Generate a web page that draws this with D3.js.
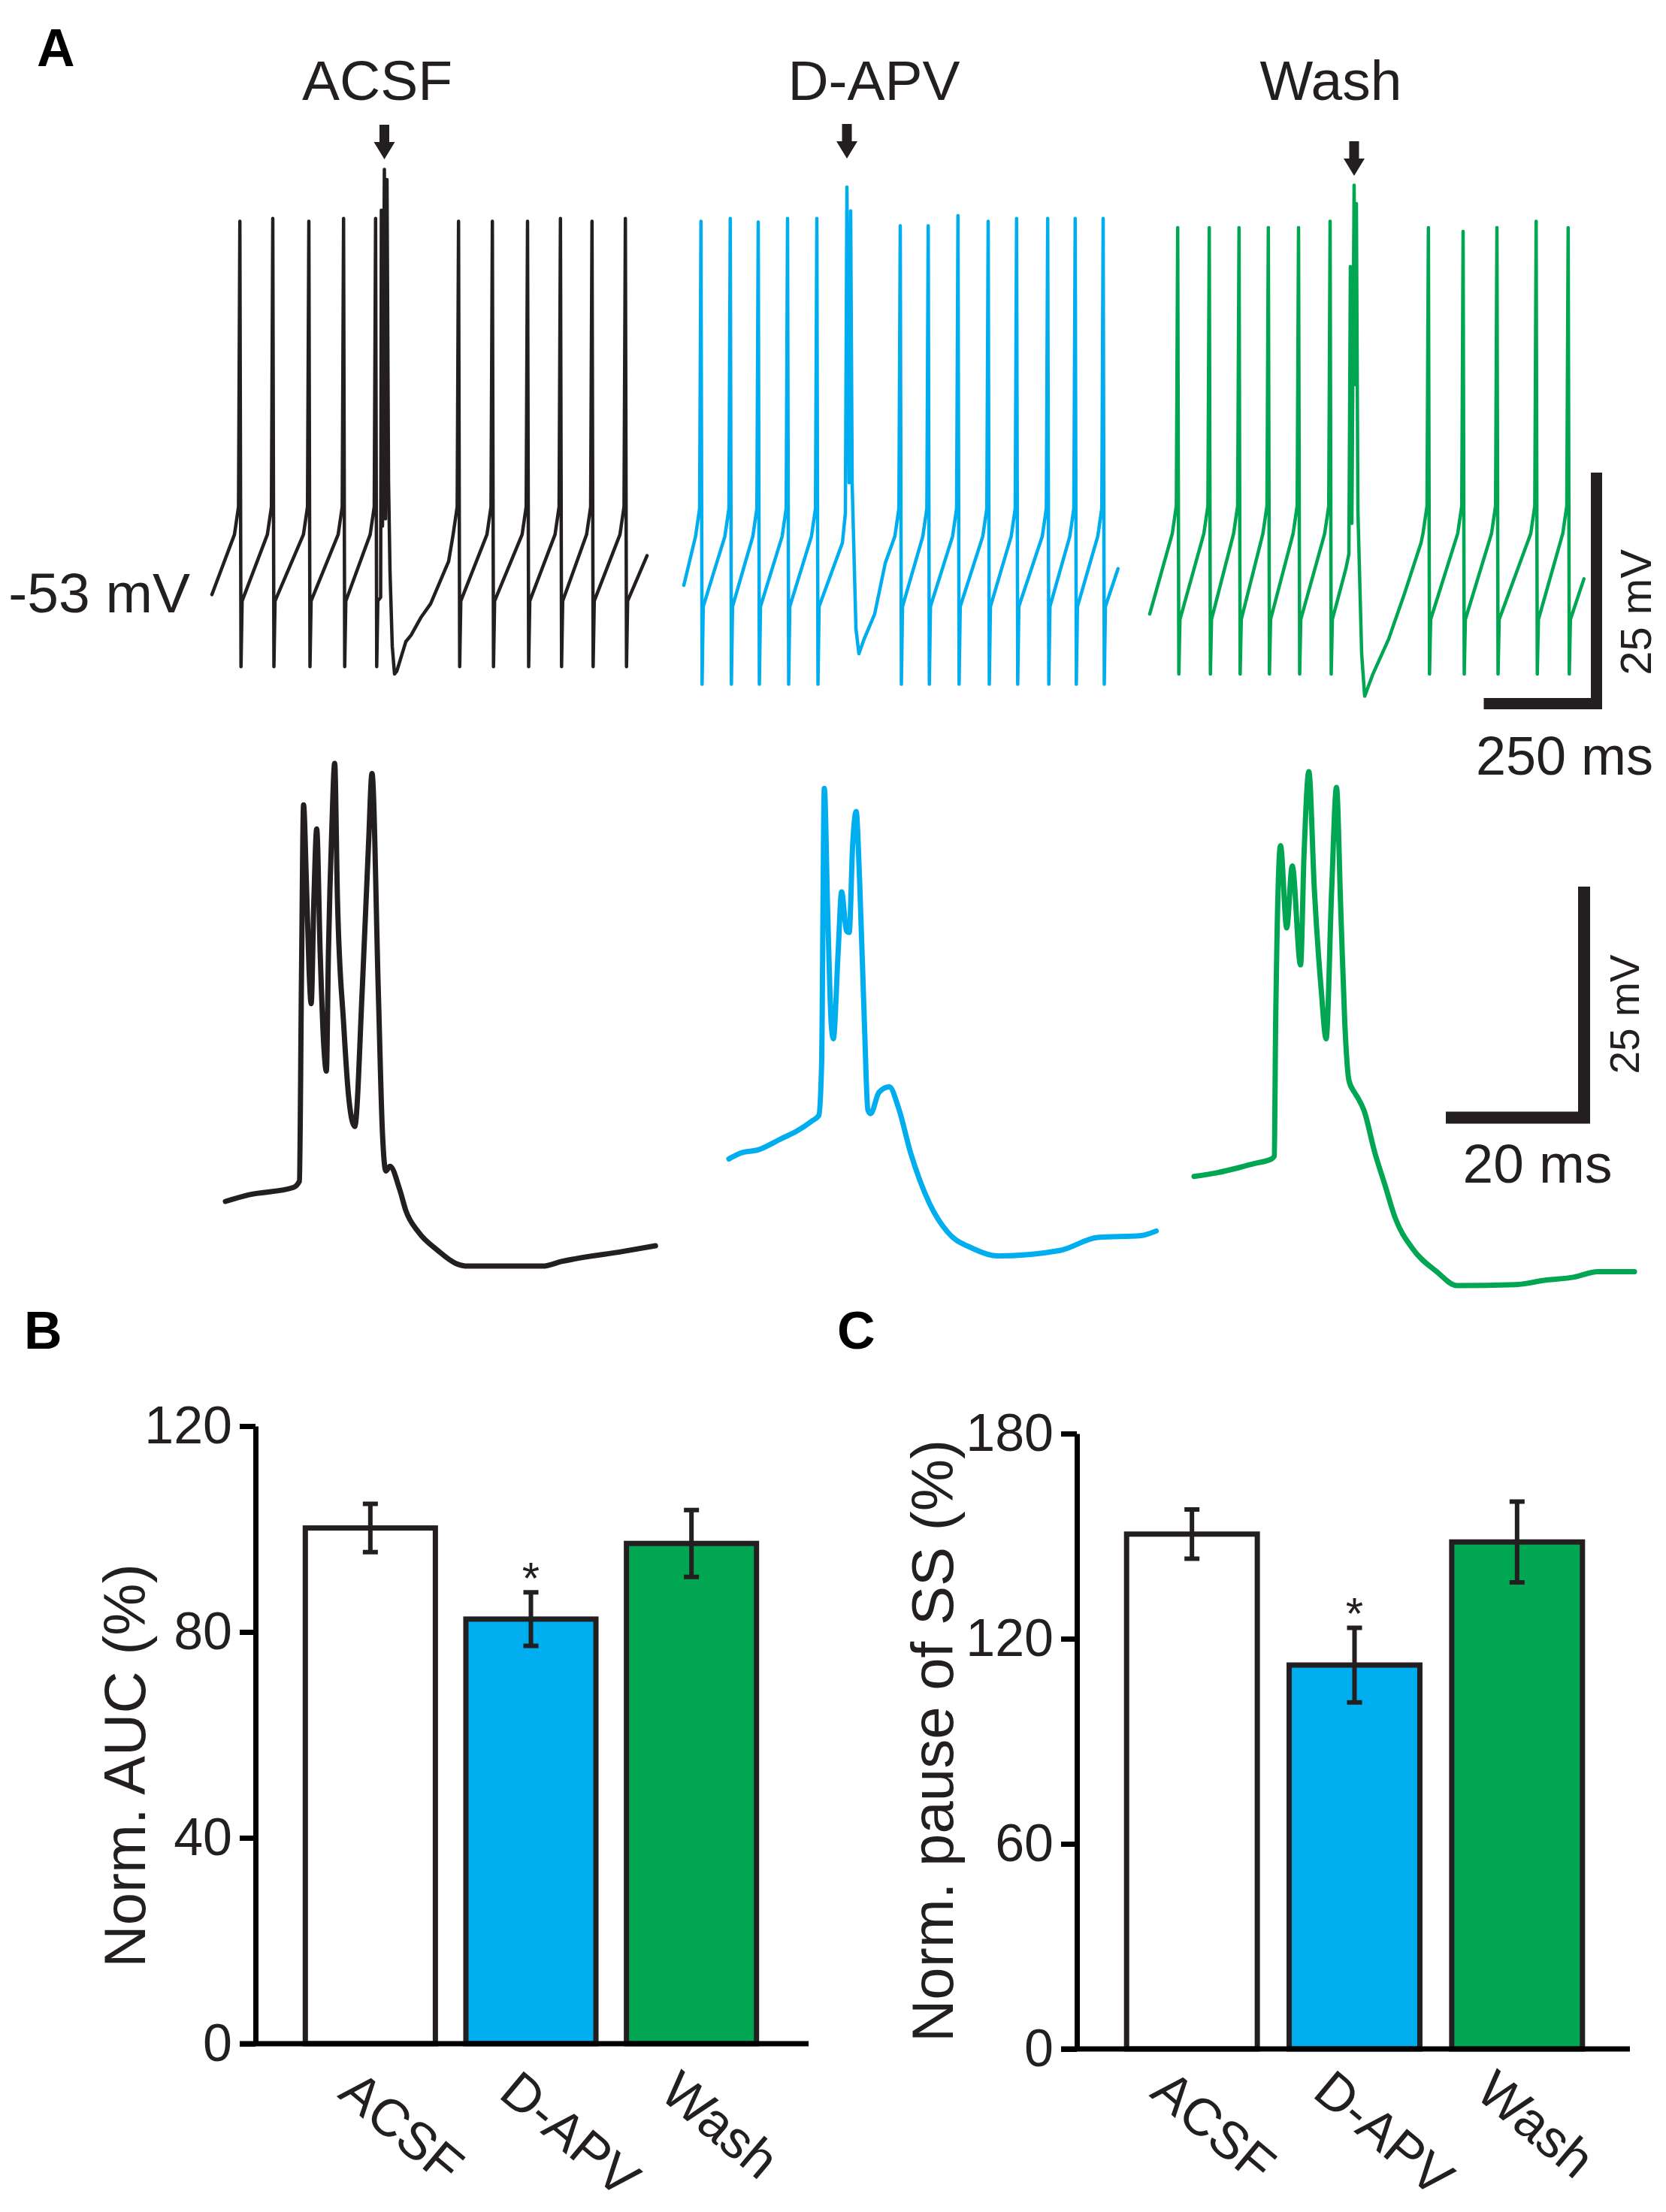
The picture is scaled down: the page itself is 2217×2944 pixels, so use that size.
<!DOCTYPE html>
<html>
<head>
<meta charset="utf-8">
<script src="https://cdnjs.cloudflare.com/ajax/libs/d3/7.8.5/d3.min.js"></script>
<style>
  body { margin: 0; background: #fff; }
  svg { display: block; }
  text { font-family: "Liberation Sans", Arial, Helvetica, sans-serif; fill: #231f20; }
</style>
</head>
<body>
<div id="fig"></div>
<script>
// ---------------- data ----------------
var conditions = ["ACSF", "D-APV", "Wash"];

// B: normalized AUC (%)
var aucMean = [100.2, 82.5, 97.2];
var aucSem = [4.7, 5.2, 6.5];
var aucTicks = [0, 40, 80, 120];

// C: normalized pause of simple spikes (%)
var pauseMean = [150.6, 112.3, 148.3];
var pauseSem = [7.2, 10.9, 11.8];
var pauseTicks = [0, 60, 120, 180];

var sigMarks = ["", "*", ""];

// A top: simple spike trains (time ms, peak mV), levels = [threshold, trough, reset] mV
var acsfSpikeT = [62, 135, 215, 292, 363, 547, 622, 700, 773, 843, 917];
var acsfSpikeV = [-12.3, -12, -12.3, -12, -12, -12.3, -12.3, -12.3, -12, -12.3, -12];
var acsfLevels = [-46.2, -60.5, -53.4];
var acsfEnds = [[0, -52.7], [965, -48.5]];
var acsfBurst = [[374.2, -53], [375.8, -11.1], [378.3, -45.3], [382.5, -6.7], [385, -44.5],
    [388.3, -7.8], [391.7, -40.4], [395, -50.2], [400, -58.3], [405, -61.3], [410, -61],
    [430, -57.8], [441.7, -57.1], [463.3, -55.2], [485, -53.7], [505, -51.4], [525, -49.1]];

var apvSpikeT = [38, 103, 165, 230, 295, 480, 542, 608, 675, 738, 807, 868, 930];
var apvSpikeV = [-12.3, -12, -12.4, -12, -12, -12.8, -12.8, -11.7, -12.3, -12, -12, -12, -12];
var apvLevels = [-46.4, -62.4, -54.0];
var apvEnds = [[0, -51.7], [963, -49.9]];
var apvBurst = [[351.7, -47.1], [358.3, -43.9], [361.7, -8.6], [366.7, -40.6], [370, -11.2],
    [373.3, -40.6], [381.7, -56.4], [388.3, -59.1], [400, -57.5], [423.3, -54.8], [446.7, -49.3]];

var washSpikeT = [62, 132, 198, 263, 330, 400, 618, 695, 770, 857, 928];
var washSpikeV = [-13, -13, -13, -13, -13, -12.3, -13, -13.4, -13, -12.3, -13];
var washLevels = [-46.1, -61.3, -55.4];
var washEnds = [[0, -54.8], [963, -51]];
var washBurst = [[435, -49.9], [441.7, -48.3], [445, -17.2], [448.3, -45], [453.3, -8.4],
    [455.8, -30], [458.3, -10.4], [461.7, -43.7], [470, -59.1], [476.7, -63.7], [495, -61.3],
    [530, -57.5], [565, -52.6], [601.7, -47.1]];

// A bottom: expanded complex spikes (time ms, mV)
var acsfCS = [[0, -53], [3.3, -52.3], [9.8, -51.5], [10.7, -50.8], [11, -28.7], [11.3, -10.1],
    [11.7, -18.2], [12.1, -28], [12.4, -31.6], [12.8, -20.2], [13.2, -12.7], [13.7, -26],
    [14.2, -35.8], [14.6, -38.9], [14.9, -26], [15.4, -12.4], [15.8, -5.6], [16.2, -20.2],
    [17.1, -33.8], [17.8, -41.5], [18.7, -44.9], [19.8, -29.9], [20.7, -14.3], [21.2, -6.7],
    [22.1, -29.9], [22.7, -45.4], [23.2, -49.7], [23.8, -49.2], [25.2, -51.7], [26.1, -54],
    [27.9, -56.3], [30.7, -58.3], [33.3, -59.7], [35.1, -60], [45.9, -60], [48.6, -59.5],
    [57.6, -58.4], [62.2, -57.8]];
var apvCS = [[0, -48.4], [1.6, -47.8], [4.3, -47.4], [7.6, -46.2], [9.8, -45.4], [12, -44.3],
    [13, -43.7], [13.4, -38.4], [13.8, -8.3], [14.3, -22.1], [14.8, -33.8], [15.1, -35.4],
    [15.8, -26], [16.3, -19.5], [17, -23.7], [17.4, -23.9], [17.9, -14.4], [18.4, -10.8],
    [18.9, -18.2], [19.6, -33.8], [20.1, -43.1], [20.5, -43.5], [21.7, -41.2], [23.2, -40.6],
    [24.5, -42.8], [26.3, -47.8], [29, -53.2], [31.6, -56.3], [35.3, -58.1], [38.9, -58.9],
    [47.9, -58.3], [53.3, -56.9], [59.6, -56.7], [61.8, -56.2]];
var washCS = [[0, -50.3], [3.3, -49.9], [6.7, -49.3], [8.7, -48.9], [11.2, -48.4], [11.6, -48.1],
    [11.8, -33.7], [12.5, -14.5], [13.4, -23.4], [14.2, -16.7], [15.4, -27.4], [15.9, -15.6],
    [16.6, -6.5], [17.4, -19.3], [18.4, -30.2], [19.1, -35.4], [19.9, -19.3], [20.6, -8.2],
    [21.2, -21], [21.8, -33.7], [22.4, -39.9], [23.2, -41.2], [23.7, -41.8], [24.6, -43.2],
    [26.1, -47.6], [27.6, -51.2], [29.1, -54.8], [31.6, -58.1], [35.1, -60.6], [38, -62.1],
    [46.5, -62], [51, -61.5], [54.9, -61.2], [58.4, -60.6], [63.7, -60.6]];

// ---------------- layout ----------------
var W = 2217, H = 2944;
var ink = "#231f20";
var traceColors = [ink, "#00aeef", "#00a651"];
var barFill = ["#ffffff", "#00aeef", "#00a651"];

var svg = d3.select("#fig").append("svg")
    .attr("width", W)
    .attr("height", H);

/*****************  Panel labels **********************/
var panelLabels = [["A", 49, 88], ["B", 32, 1795], ["C", 1114, 1795]];
svg.selectAll(".plabel")
    .data(panelLabels)
    .enter()
    .append("text")
    .attr("x", function (d) { return d[1]; })
    .attr("y", function (d) { return d[2]; })
    .style("font-size", "70px")
    .style("font-weight", "bold")
    .style("fill", "#000")
    .text(function (d) { return d[0]; });

/*****************  A: spike trains **********************/
var topOrigins = [282, 910, 1530];
var lowOrigins = [300, 970, 1589];
var topMsPx = 0.6, lowMsPx = 9.2, mVPx = 12.3;

var yTop = d3.scaleLinear().domain([-53, -13]).range([795, 795 - 40 * mVPx]);
var yLow = d3.scaleLinear().domain([-53, -13]).range([1599, 1599 - 40 * mVPx]);

function buildTrain(spT, spV, lev, ends, burst) {
    var pts = [ends[0]];
    var bt = burst[0][0];
    var burstDone = false;
    spT.forEach(function (t, i) {
        if (!burstDone && t > bt) {
            burst.forEach(function (p) { pts.push(p); });
            burstDone = true;
        }
        pts.push([t - 12, lev[0]]);
        pts.push([t - 3, lev[0] + 3]);
        pts.push([t, spV[i]]);
        pts.push([t + 2.5, lev[1]]);
        pts.push([t + 5, lev[2]]);
    });
    pts.push(ends[1]);
    return pts;
}

var trains = [
    buildTrain(acsfSpikeT, acsfSpikeV, acsfLevels, acsfEnds, acsfBurst),
    buildTrain(apvSpikeT, apvSpikeV, apvLevels, apvEnds, apvBurst),
    buildTrain(washSpikeT, washSpikeV, washLevels, washEnds, washBurst)
];
var bursts = [acsfBurst, apvBurst, washBurst];
var complexSpikes = [acsfCS, apvCS, washCS];

var titleX = [502, 1163, 1771];
var arrowTip = [212, 211, 234];

trains.forEach(function (pts, i) {
    var x = d3.scaleLinear().domain([0, 1]).range([topOrigins[i], topOrigins[i] + topMsPx]);
    var line = d3.line()
        .x(function (d) { return x(d[0]); })
        .y(function (d) { return yTop(d[1]); });
    svg.append("path")
        .datum(pts)
        .attr("d", line)
        .style("fill", "none")
        .style("stroke", traceColors[i])
        .style("stroke-width", 4.5)
        .style("stroke-linejoin", "round")
        .style("stroke-linecap", "round");

    // arrow over the complex spike
    var peak = d3.greatest(bursts[i], function (d) { return d[1]; });
    var ax = x(peak[0]), ty = arrowTip[i];
    svg.append("path")
        .attr("d", "M" + (ax - 6.5) + "," + (ty - 46) + "H" + (ax + 6.5) + "V" + (ty - 23) +
            "H" + (ax + 14) + "L" + ax + "," + ty + "L" + (ax - 14) + "," + (ty - 23) +
            "H" + (ax - 6.5) + "Z")
        .style("fill", ink);

    svg.append("text")
        .attr("x", titleX[i])
        .attr("y", 133)
        .attr("text-anchor", "middle")
        .style("font-size", "75px")
        .text(conditions[i]);

    // expanded complex spike
    var xl = d3.scaleLinear().domain([0, 1]).range([lowOrigins[i], lowOrigins[i] + lowMsPx]);
    var lineLow = d3.line()
        .curve(d3.curveMonotoneX)
        .x(function (d) { return xl(d[0]); })
        .y(function (d) { return yLow(d[1]); });
    svg.append("path")
        .datum(complexSpikes[i])
        .attr("d", lineLow)
        .style("fill", "none")
        .style("stroke", traceColors[i])
        .style("stroke-width", 7)
        .style("stroke-linejoin", "round")
        .style("stroke-linecap", "round");
});

svg.append("text")
    .attr("x", 253)
    .attr("y", 815)
    .attr("text-anchor", "end")
    .style("font-size", "75px")
    .text("-53 mV");

/*****************  Scale bars **********************/
function scaleBar(cornerX, cornerY, hLen, vLen, thick) {
    svg.append("path")
        .attr("d", "M" + (cornerX - hLen) + "," + cornerY + "H" + cornerX + "V" + (cornerY - vLen))
        .style("fill", "none")
        .style("stroke", ink)
        .style("stroke-width", thick)
        .style("stroke-linecap", "square")
        .style("stroke-linejoin", "miter");
}
scaleBar(2124.5, 936.5, 250 * topMsPx - 7.5, yTop(-53) - yTop(-28) - 7.5, 15);
scaleBar(2108, 1487.5, 20 * lowMsPx - 8, yLow(-53) - yLow(-28) - 8, 16);

svg.append("text").attr("x", 2082).attr("y", 1031).attr("text-anchor", "middle")
    .style("font-size", "72px").text("250 ms");
svg.append("text").attr("transform", "translate(2197,815) rotate(-90)").attr("text-anchor", "middle")
    .style("font-size", "58px").text("25 mV");
svg.append("text").attr("x", 2046).attr("y", 1574).attr("text-anchor", "middle")
    .style("font-size", "73px").text("20 ms");
svg.append("text").attr("transform", "translate(2181,1350) rotate(-90)").attr("text-anchor", "middle")
    .style("font-size", "55px").text("25 mV");

/*****************  B & C: bar charts **********************/
function barPanel(cfg) {
    var y = d3.scaleLinear().domain([0, cfg.max]).range([cfg.y0, cfg.y1]);
    var x = d3.scaleBand().domain(conditions).range(cfg.xr)
        .paddingInner(cfg.pi).paddingOuter(cfg.po);
    var g = svg.append("g");
    var bw = x.bandwidth();

    g.selectAll(".bar")
        .data(conditions)
        .enter()
        .append("rect")
        .attr("x", function (d) { return x(d); })
        .attr("y", function (d, i) { return y(cfg.mean[i]); })
        .attr("width", bw)
        .attr("height", function (d, i) { return y(0) - y(cfg.mean[i]); })
        .style("fill", function (d, i) { return barFill[i]; })
        .style("stroke", ink)
        .style("stroke-width", 7);

    // error bars
    conditions.forEach(function (d, i) {
        var cx = x(d) + bw / 2;
        var lo = y(cfg.mean[i] - cfg.sem[i]), hi = y(cfg.mean[i] + cfg.sem[i]);
        g.append("path")
            .attr("d", "M" + cx + "," + lo + "V" + hi +
                "M" + (cx - 10) + "," + hi + "H" + (cx + 10) +
                "M" + (cx - 10) + "," + lo + "H" + (cx + 10))
            .style("fill", "none")
            .style("stroke", ink)
            .style("stroke-width", 6);
        if (sigMarks[i]) {
            g.append("text")
                .attr("x", cx)
                .attr("y", hi + 2)
                .attr("text-anchor", "middle")
                .style("font-size", "60px")
                .text(sigMarks[i]);
        }
        g.append("text")
            .attr("transform", "translate(" + (cx + cfg.lblDx) + "," + (y(0) + cfg.lblDy) + ") rotate(40)")
            .style("font-size", "70px")
            .text(d);
    });

    // axes
    g.append("line")
        .attr("x1", cfg.axisX - 21).attr("x2", cfg.xEnd)
        .attr("y1", y(0)).attr("y2", y(0))
        .style("stroke", "#000").style("stroke-width", 7);
    var ax = g.append("g")
        .attr("transform", "translate(" + cfg.axisX + ",0)")
        .call(d3.axisLeft(y).tickValues(cfg.ticks).tickSize(21).tickSizeOuter(0).tickPadding(10));
    ax.attr("font-size", 70).attr("font-family", null);
    ax.select(".domain").style("stroke", "#000").style("stroke-width", 7);
    ax.selectAll(".tick line").style("stroke", "#000").style("stroke-width", 7);
    ax.selectAll(".tick text").style("fill", ink).style("font-size", "70px");

    g.append("text")
        .attr("transform", "translate(" + cfg.ylx + "," + cfg.yly + ") rotate(-90)")
        .attr("text-anchor", "middle")
        .style("font-size", "78px")
        .text(cfg.label);
}

barPanel({
    max: 120, y0: 2720, y1: 1898, xr: [386, 1027], pi: 0.19, po: 0.095,
    mean: aucMean, sem: aucSem, ticks: aucTicks, axisX: 340, xEnd: 1076,
    lblDx: -45, lblDy: 70, ylx: 193, yly: 2350, label: "Norm. AUC (%)"
});
barPanel({
    max: 180, y0: 2727, y1: 1908, xr: [1478, 2127], pi: 0.196, po: 0.098,
    mean: pauseMean, sem: pauseSem, ticks: pauseTicks, axisX: 1433, xEnd: 2169,
    lblDx: -58, lblDy: 62, ylx: 1268, yly: 2317, label: "Norm. pause of SS (%)"
});
</script>
</body>
</html>
